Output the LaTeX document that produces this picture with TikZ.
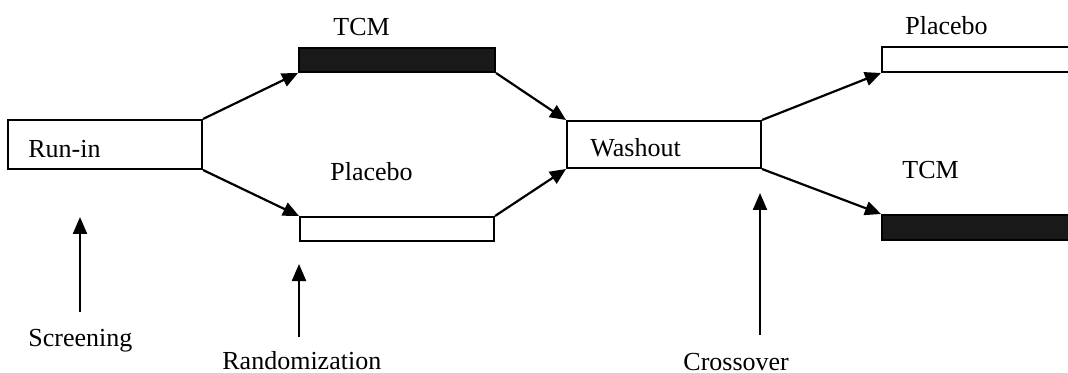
\documentclass[tikz,border=0pt]{standalone}
\usepackage{fontspec}
\setmainfont{Liberation Serif}
\usetikzlibrary{arrows.meta}
\begin{document}
\begin{tikzpicture}[x=0.5pt,y=-0.5pt,
  stage/.style={draw, line width=1pt, inner sep=0pt, fill=white},
  drug/.style={draw, line width=1pt, inner sep=0pt, fill=black!90},
  label/.style={inner sep=0pt, anchor=west, font=\fontsize{13}{15}\selectfont},
  flow/.style={line width=1.1pt, -{Triangle[length=8pt,width=7pt]}},
  event/.style={line width=1.1pt, -{Triangle[length=8.5pt,width=7pt]}}]
\useasboundingbox (0,0) rectangle (1068,373);
\begin{scope}
\clip (0,0) rectangle (1068,373);
% treatment periods
\node[stage, minimum width=97pt, minimum height=24.5pt] (runin) at (105,144.5) {};
\node[drug, minimum width=98pt, minimum height=12pt] (tcm1) at (397,60) {};
\node[stage, minimum width=97pt, minimum height=12pt] (pla1) at (397,229) {};
\node[stage, minimum width=97pt, minimum height=23.5pt] (wash) at (664,144.5) {};
\node[stage, minimum width=95pt, minimum height=12.5pt] (pla2) at (977,59.5) {};
\node[drug, minimum width=95pt, minimum height=12.5pt] (tcm2) at (977,227.5) {};
\end{scope}
% labels
\node[label] (trunin) at (28,149) {Run-in};
\node[label] (twash) at (590,148) {Washout};
\node[label] (ttcm1) at (333,27) {TCM};
\node[label] (tpla1) at (330,172) {Placebo};
\node[label] (tpla2) at (905,26) {Placebo};
\node[label] (ttcm2) at (902,170) {TCM};
\node[label] (tscr) at (28,341) {Screening};
\node[label] (trand) at (222,361) {Randomization};
\node[label] (tcross) at (683,362) {Crossover};
% flow between periods
\draw[flow] (runin.north east) -- (tcm1.south west);
\draw[flow] (runin.south east) -- (pla1.north west);
\draw[flow] (tcm1.south east) -- (wash.north west);
\draw[flow] (pla1.north east) -- (wash.south west);
\draw[flow] (wash.north east) -- (pla2.south west);
\draw[flow] (wash.south east) -- (tcm2.north west);
% time points
\coordinate (scr0) at (80,312);
\coordinate (scr1) at (80,217);
\coordinate (rand0) at (299,337);
\coordinate (rand1) at (299,264);
\coordinate (cross0) at (760,335);
\coordinate (cross1) at (760,193);
\draw[event] (scr0) -- (scr1);
\draw[event] (rand0) -- (rand1);
\draw[event] (cross0) -- (cross1);
\end{tikzpicture}
\end{document}
